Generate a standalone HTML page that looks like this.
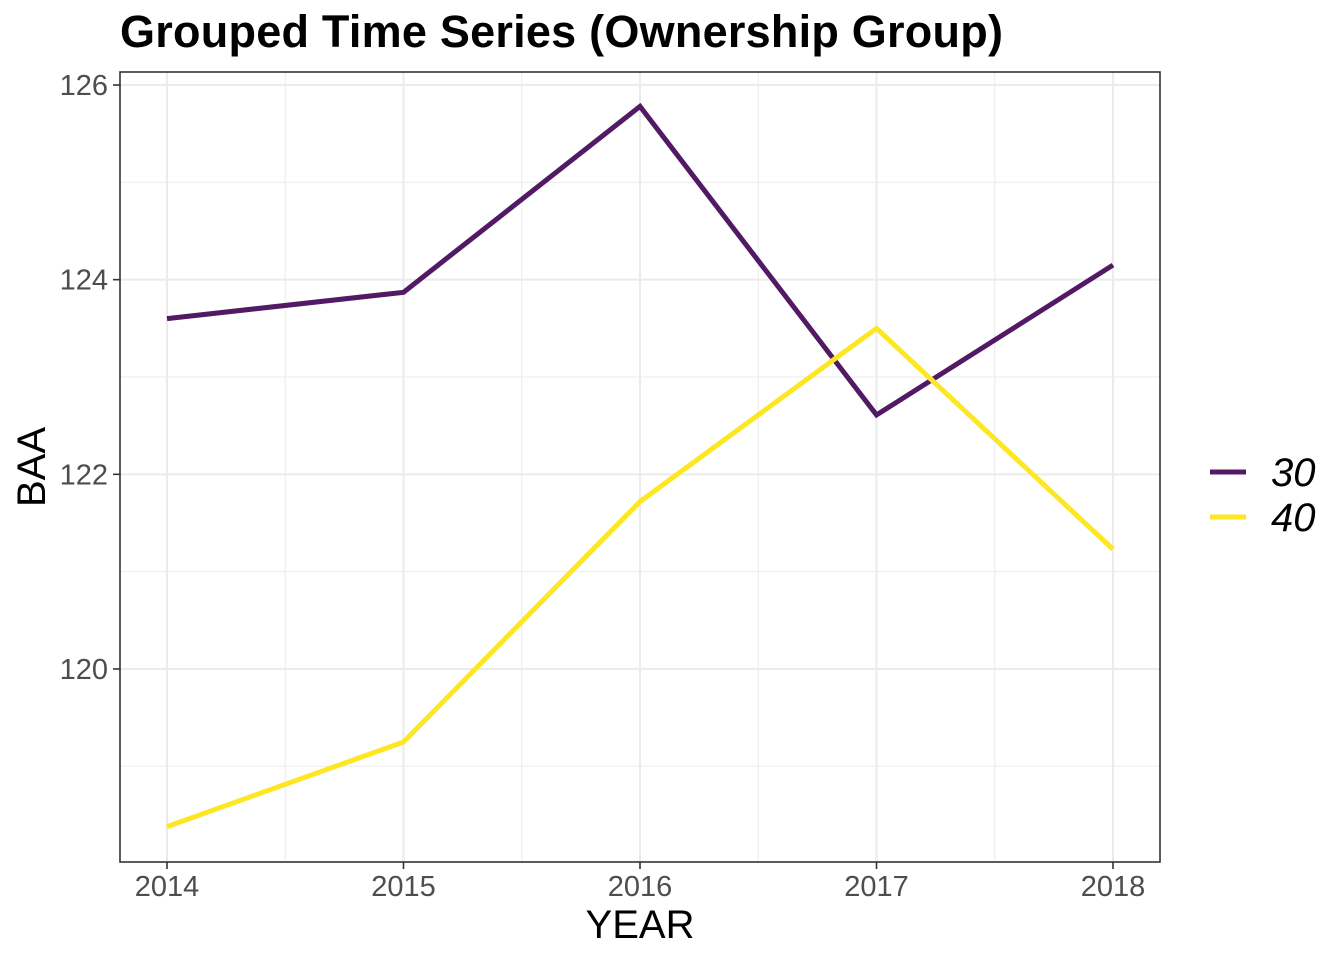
<!DOCTYPE html>
<html><head><meta charset="utf-8"><style>
body{margin:0;background:#fff;}
svg{display:block;font-family:"Liberation Sans",sans-serif;}
</style></head><body>
<svg id="chart" width="1344" height="960">
<text x="120" y="47" font-size="45" font-weight="bold" fill="#000" textLength="883">Grouped Time Series (Ownership Group)</text>
<g id="grid"></g>
<g id="lines"></g>
<rect x="120" y="72" width="1040" height="790" fill="none" stroke="#333" stroke-width="1.6"/>
<g id="axes"></g>
<text x="640" y="938" font-size="40" text-anchor="middle" fill="#000">YEAR</text>
<text transform="translate(45,467) rotate(-90)" font-size="40" text-anchor="middle" fill="#000">BAA</text>
<g>
<line x1="1210" y1="472" x2="1246" y2="472" stroke="#521A65" stroke-width="5"/>
<text x="1271" y="486" font-size="40" font-style="italic">30</text>
<line x1="1210" y1="517" x2="1246" y2="517" stroke="#FDE725" stroke-width="5"/>
<text x="1271" y="531" font-size="40" font-style="italic">40</text>
</g>
</svg>
<script>
const years=[2014,2015,2016,2017,2018];
const series30=[123.60,123.87,125.78,122.61,124.15];
const series40=[118.38,119.25,121.72,123.50,121.23];
const yTicks=[120,122,124,126];
const yMinor=[119,121,123,125];
const NS="http://www.w3.org/2000/svg";
const x=v=>167+(v-2014)*236.5;
const y=v=>85+(126-v)*97.33;
function mk(tag,attrs,parent){const e=document.createElementNS(NS,tag);for(const k in attrs)e.setAttribute(k,attrs[k]);parent.appendChild(e);return e;}
const grid=document.getElementById('grid'),axes=document.getElementById('axes'),lines=document.getElementById('lines');
yMinor.forEach(v=>{const l=mk('line',{x1:120,x2:1160,y1:y(v),y2:y(v),stroke:'#ebebeb','stroke-width':1},grid);

});
for(let i=0;i<years.length-1;i++){const xv=(x(years[i])+x(years[i+1]))/2;const l=mk('line',{x1:xv,x2:xv,y1:72,y2:862,stroke:'#ebebeb','stroke-width':1},grid);

}
yTicks.forEach(v=>{const l=mk('line',{x1:120,x2:1160,y1:y(v),y2:y(v),stroke:'#ebebeb','stroke-width':2},grid);


const t=mk('line',{x1:113,x2:120,y1:y(v),y2:y(v),stroke:'#333','stroke-width':1.6},axes);


const tx=mk('text',{x:108,y:y(v)+10,'font-size':29,'text-anchor':'end',fill:'#4d4d4d'},axes);tx.textContent=v;

});
years.forEach(v=>{const l=mk('line',{x1:x(v),x2:x(v),y1:72,y2:862,stroke:'#ebebeb','stroke-width':2},grid);


const t=mk('line',{x1:x(v),x2:x(v),y1:862,y2:869,stroke:'#333','stroke-width':1.6},axes);


const tx=mk('text',{x:x(v),y:896,'font-size':29,'text-anchor':'middle',fill:'#4d4d4d'},axes);tx.textContent=v;

});
[[series30,'#521A65','line-30'],[series40,'#FDE725','line-40']].forEach(([s,c,n])=>{
const p=mk('polyline',{points:s.map((v,i)=>x(years[i])+','+y(v)).join(' '),fill:'none',stroke:c,'stroke-width':5},lines);

});
</script>
</body></html>
